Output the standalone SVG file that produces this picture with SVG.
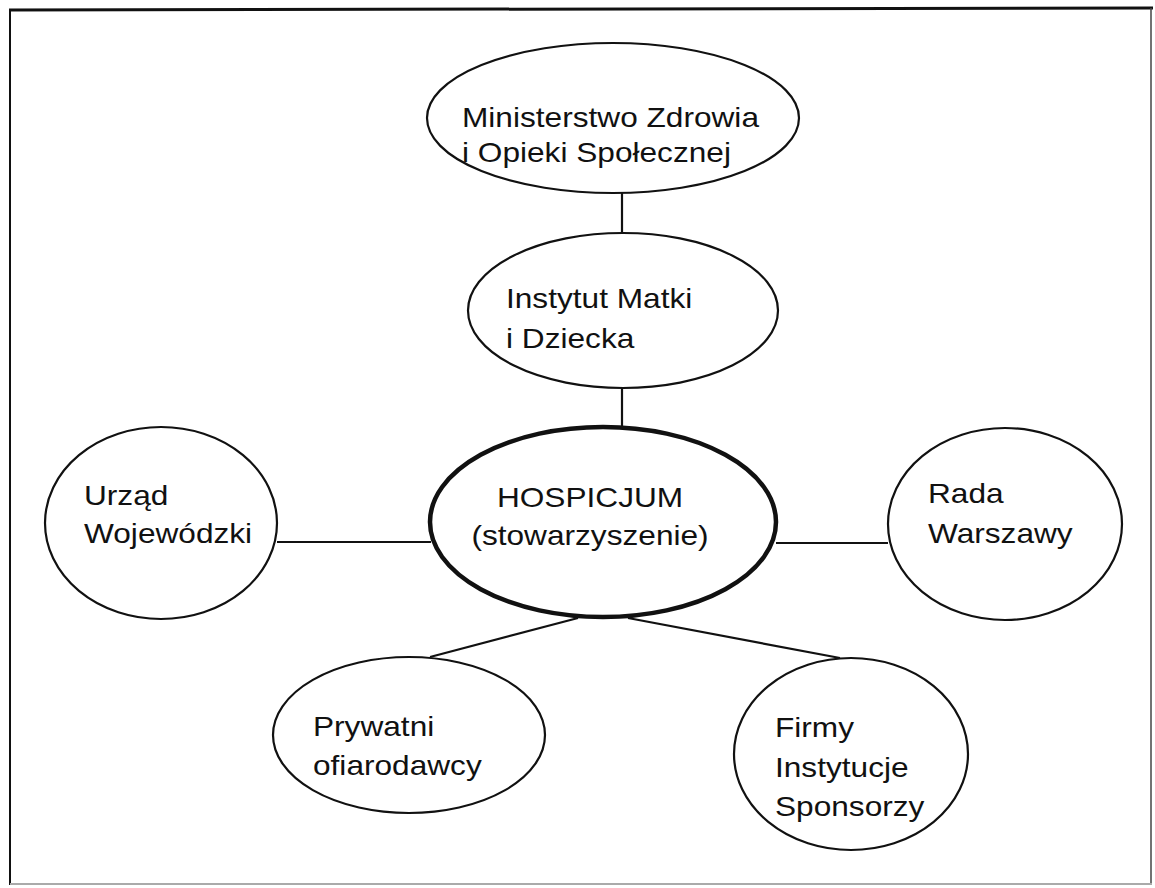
<svg xmlns="http://www.w3.org/2000/svg" width="1155" height="888" viewBox="0 0 1155 888">
<style>
.node{fill:#fff;stroke:#111;stroke-width:2.2}
.main{fill:#fff;stroke:#111;stroke-width:4.5}
.lbl{font-family:"Liberation Sans",Arial,sans-serif;font-size:28px;fill:#111}
.con line{stroke:#111;stroke-width:2.2}
</style>
<rect width="1155" height="888" fill="#fff"/>
<g id="frame" fill="none">
<line x1="9" y1="10" x2="1153" y2="8" stroke="#111" stroke-width="3"/>
<line x1="10" y1="9" x2="10" y2="885" stroke="#111" stroke-width="2"/>
<line x1="1151" y1="8" x2="1151" y2="885" stroke="#444" stroke-width="1.5"/>
<line x1="10" y1="884" x2="1152" y2="884" stroke="#aaa" stroke-width="2"/>
</g>
<g id="connectors" class="con">
<line x1="622" y1="193" x2="622" y2="233"/>
<line x1="622" y1="388" x2="622" y2="428"/>
<line x1="277" y1="542" x2="431" y2="542"/>
<line x1="776" y1="543" x2="888" y2="543"/>
<line x1="578" y1="618" x2="430" y2="657"/>
<line x1="628" y1="618" x2="840" y2="658"/>
</g>
<g id="ministerstwo">
<ellipse class="node" cx="613" cy="118" rx="186" ry="75"/>
<text class="lbl" transform="translate(462 127) scale(1.13 1)"><tspan x="0">Ministerstwo Zdrowia</tspan><tspan x="0" dy="35">i Opieki Społecznej</tspan></text>
</g>
<g id="instytut">
<ellipse class="node" cx="623" cy="310.5" rx="155" ry="77.5"/>
<text class="lbl" transform="translate(506 308) scale(1.13 1)"><tspan x="0">Instytut Matki</tspan><tspan x="0" dy="40">i Dziecka</tspan></text>
</g>
<g id="hospicjum">
<ellipse class="main" cx="603" cy="522" rx="173" ry="95"/>
<text class="lbl" text-anchor="middle" transform="translate(590 507) scale(1.13 1)"><tspan x="0">HOSPICJUM</tspan><tspan x="0" dy="38">(stowarzyszenie)</tspan></text>
</g>
<g id="urzad">
<ellipse class="node" cx="161" cy="523" rx="116" ry="96"/>
<text class="lbl" transform="translate(84 505) scale(1.13 1)"><tspan x="0">Urząd</tspan><tspan x="0" dy="38">Wojewódzki</tspan></text>
</g>
<g id="rada">
<ellipse class="node" cx="1005" cy="524" rx="117" ry="96"/>
<text class="lbl" transform="translate(928 503) scale(1.13 1)"><tspan x="0">Rada</tspan><tspan x="0" dy="40">Warszawy</tspan></text>
</g>
<g id="prywatni">
<ellipse class="node" cx="409" cy="735" rx="136" ry="78"/>
<text class="lbl" transform="translate(313 736) scale(1.13 1)"><tspan x="0">Prywatni</tspan><tspan x="0" dy="39">ofiarodawcy</tspan></text>
</g>
<g id="firmy">
<ellipse class="node" cx="851" cy="754" rx="117" ry="96"/>
<text class="lbl" transform="translate(775 737) scale(1.13 1)"><tspan x="0">Firmy</tspan><tspan x="0" dy="40">Instytucje</tspan><tspan x="0" dy="39">Sponsorzy</tspan></text>
</g>
</svg>
